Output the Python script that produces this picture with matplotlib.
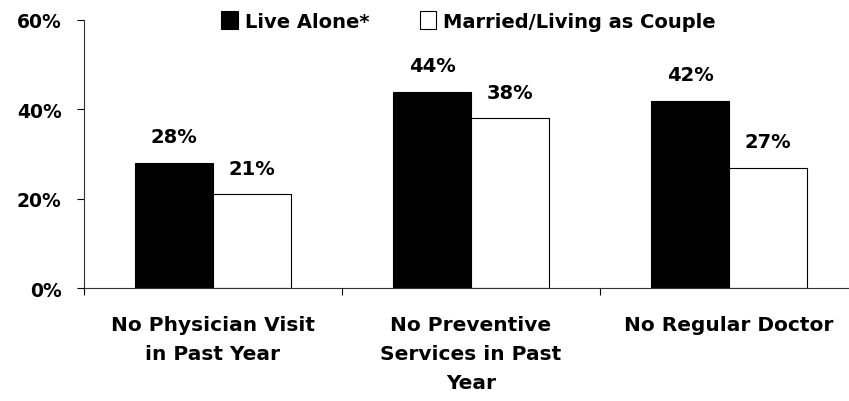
#! /usr/bin/env python
"""Access to care: live alone vs married/living as couple."""

import matplotlib.pyplot as plt
import numpy as np

categories = ['No Physician Visit\nin Past Year',
              'No Preventive\nServices in Past\nYear',
              'No Regular Doctor']
live_alone = [28, 44, 42]
married = [21, 38, 27]
series_names = ['Live Alone*', 'Married/Living as Couple']
y_ticks = [0, 20, 40, 60]
y_labels = ['0%', '20%', '40%', '60%']

plt.rcParams['font.family'] = 'DejaVu Sans'
plt.rcParams['font.weight'] = 'bold'

fig = plt.figure()
fig.set_size_inches(8.49, 4.02)
ax = fig.add_axes([0.0989, 0.2799, 0.9117, 0.668])

x = np.arange(len(categories)) + 0.5
width = 0.302
b1 = ax.bar(x - width / 2, live_alone, width, color='black',
            edgecolor='black', linewidth=0.8, label=series_names[0])
b2 = ax.bar(x + width / 2, married, width, color='white',
            edgecolor='black', linewidth=0.8, label=series_names[1])

# value labels above the bars
for bars, vals in ((b1, live_alone), (b2, married)):
    for rect, v in zip(bars, vals):
        ax.annotate('%d%%' % v, (rect.get_x() + rect.get_width() / 2, v),
                    xytext=(0, 19), textcoords='offset points',
                    ha='center', va='center', fontsize=14,
                    fontweight='bold')

ax.set_xlim(0, 3)
ax.set_ylim(0, 60)
ax.set_yticks(y_ticks)
ax.set_yticklabels(y_labels, fontsize=13.5, fontweight='bold')
ax.tick_params(axis='y', direction='out', length=5, width=0.8, pad=11)

# category boundaries as major ticks, labels on minor ticks
ax.set_xticks([0, 1, 2, 3])
ax.set_xticklabels([])
ax.set_xticks(x, minor=True)
ax.set_xticklabels(categories, minor=True, fontsize=14.5,
                   fontweight='bold', linespacing=1.68)
ax.tick_params(axis='x', which='major', direction='out', length=5,
               width=0.8)
ax.tick_params(axis='x', which='minor', length=0, pad=19)

ax.spines['top'].set_visible(False)
ax.spines['right'].set_visible(False)
ax.spines['left'].set_color('#333333')
ax.spines['bottom'].set_color('#333333')

fig.legend(handles=[b1, b2], loc='center', bbox_to_anchor=(0.552, 0.945),
           ncol=2, frameon=False, handlelength=0.85,
           handleheight=1.0, handletextpad=0.35, columnspacing=2.6,
           prop={'weight': 'bold', 'size': 14})

fig.savefig('out.png', dpi=100)
